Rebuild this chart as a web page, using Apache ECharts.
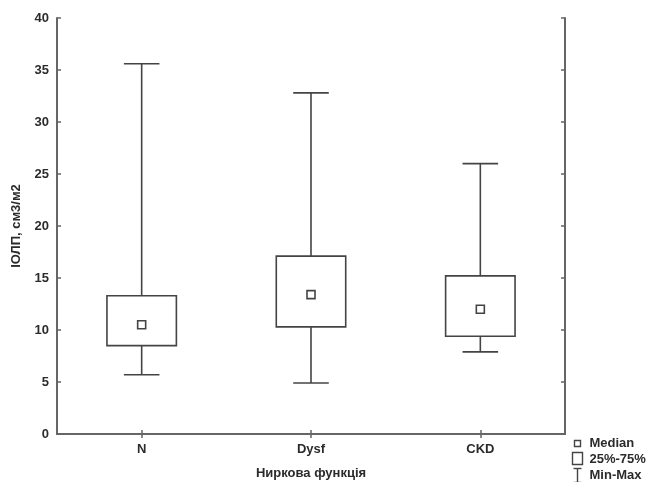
<!DOCTYPE html>
<html>
<head>
<meta charset="utf-8">
<script src="https://cdn.jsdelivr.net/npm/echarts@6/dist/echarts.min.js"></script>
<style>
  html, body { margin: 0; padding: 0; background: #fff; }
  #chart { width: 647px; height: 482px; }
</style>
</head>
<body>
<div id="chart"></div>
<script>
// values
const categories = ['N', 'Dysf', 'CKD'];
const minVals = [5.7, 4.9, 7.9];
const q1Vals = [8.5, 10.3, 9.4];
const medianVals = [10.5, 13.4, 12.0];
const q3Vals = [13.3, 17.1, 15.2];
const maxVals = [35.6, 32.8, 26.0];
const yTicks = [0, 5, 10, 15, 20, 25, 30, 35, 40];

const FONT = 'Liberation Sans, Arial, sans-serif';
const TEXT = '#2b2b2b';
const LINE = '#444';
const FRAME = '#666';

const boxData = categories.map((c, i) => [i, minVals[i], q1Vals[i], medianVals[i], q3Vals[i], maxVals[i]]);

function renderBox(params, api) {
  const i = api.value(0);
  const band = api.size([1, 0])[0];
  const halfBox = band * 0.205;
  const halfCap = band * 0.105;
  const pMin = api.coord([i, api.value(1)]);
  const pQ1 = api.coord([i, api.value(2)]);
  const pMed = api.coord([i, api.value(3)]);
  const pQ3 = api.coord([i, api.value(4)]);
  const pMax = api.coord([i, api.value(5)]);
  const x = pMed[0];
  const st = { stroke: LINE, lineWidth: 1.6, fill: null };
  const m = 4;
  return {
    type: 'group',
    children: [
      { type: 'line', shape: { x1: x, y1: pMax[1], x2: x, y2: pQ3[1] }, style: st },
      { type: 'line', shape: { x1: x, y1: pQ1[1], x2: x, y2: pMin[1] }, style: st },
      { type: 'line', shape: { x1: x - halfCap, y1: pMax[1], x2: x + halfCap, y2: pMax[1] }, style: st },
      { type: 'line', shape: { x1: x - halfCap, y1: pMin[1], x2: x + halfCap, y2: pMin[1] }, style: st },
      { type: 'rect', shape: { x: x - halfBox, y: pQ3[1], width: halfBox * 2, height: pQ1[1] - pQ3[1] },
        style: { stroke: LINE, lineWidth: 1.6, fill: '#fff' } },
      { type: 'rect', shape: { x: x - m, y: pMed[1] - m, width: m * 2, height: m * 2 },
        style: { stroke: LINE, lineWidth: 1.6, fill: '#fff' } }
    ]
  };
}

const chart = echarts.init(document.getElementById('chart'));

const tickStyle = { show: true, inside: true, length: 4, lineStyle: { color: FRAME, width: 1.5 } };
const labelFont = { color: TEXT, fontFamily: FONT, fontSize: 13, fontWeight: 'bold' };

chart.setOption({
  animation: false,
  backgroundColor: '#fff',
  grid: { left: 57, top: 18, right: 82, bottom: 48, outerBoundsMode: 'none', containLabel: false },
  xAxis: [
    {
      type: 'category',
      data: categories,
      position: 'bottom',
      boundaryGap: true,
      axisLine: { lineStyle: { color: FRAME, width: 2 } },
      axisTick: Object.assign({ alignWithLabel: true }, tickStyle),
      axisLabel: Object.assign({ margin: 9 }, labelFont),
      name: 'Ниркова функція',
      nameLocation: 'middle',
      nameGap: 33,
      nameTextStyle: labelFont
    },
    {
      type: 'category',
      data: categories,
      position: 'top',
      boundaryGap: true,
      axisLine: { lineStyle: { color: FRAME, width: 2 } },
      axisTick: Object.assign({ alignWithLabel: true }, tickStyle),
      axisLabel: { show: false }
    }
  ],
  yAxis: [
    {
      type: 'value',
      min: 0,
      max: 40,
      interval: 5,
      position: 'left',
      splitLine: { show: false },
      axisLine: { show: true, lineStyle: { color: FRAME, width: 2 } },
      axisTick: tickStyle,
      axisLabel: Object.assign({
        margin: 8,
        formatter: v => yTicks.indexOf(v) >= 0 ? String(v) : ''
      }, labelFont),
      name: 'ІОЛП, см3/м2',
      nameLocation: 'middle',
      nameGap: 34,
      nameTextStyle: labelFont
    },
    {
      type: 'value',
      min: 0,
      max: 40,
      interval: 5,
      position: 'right',
      splitLine: { show: false },
      axisLine: { show: true, lineStyle: { color: FRAME, width: 2 } },
      axisTick: tickStyle,
      axisLabel: { show: false }
    }
  ],
  series: [
    {
      type: 'custom',
      xAxisIndex: 0,
      yAxisIndex: 0,
      renderItem: renderBox,
      encode: { x: 0, y: [1, 2, 3, 4, 5] },
      data: boxData
    }
  ],
  graphic: [
    {
      type: 'group',
      left: 571,
      top: 437,
      children: [
        { type: 'rect', shape: { x: 3, y: 1, width: 6, height: 6 }, style: { stroke: LINE, lineWidth: 1.4, fill: '#fff' } },
        { type: 'text', x: 18, y: 4, style: { text: 'Median', font: 'bold 13px ' + FONT, fill: TEXT, textVerticalAlign: 'middle' } },
        { type: 'rect', shape: { x: 1, y: 13, width: 10, height: 12 }, style: { stroke: LINE, lineWidth: 1.4, fill: '#fff' } },
        { type: 'text', x: 18, y: 20, style: { text: '25%-75%', font: 'bold 13px ' + FONT, fill: TEXT, textVerticalAlign: 'middle' } },
        { type: 'line', shape: { x1: 2, y1: 29, x2: 10, y2: 29 }, style: { stroke: LINE, lineWidth: 1.4 } },
        { type: 'line', shape: { x1: 6, y1: 29, x2: 6, y2: 43 }, style: { stroke: LINE, lineWidth: 1.4 } },
        { type: 'line', shape: { x1: 2, y1: 43, x2: 10, y2: 43 }, style: { stroke: LINE, lineWidth: 1.4 } },
        { type: 'text', x: 18, y: 36, style: { text: 'Min-Max', font: 'bold 13px ' + FONT, fill: TEXT, textVerticalAlign: 'middle' } }
      ]
    }
  ]
});
</script>
</body>
</html>
